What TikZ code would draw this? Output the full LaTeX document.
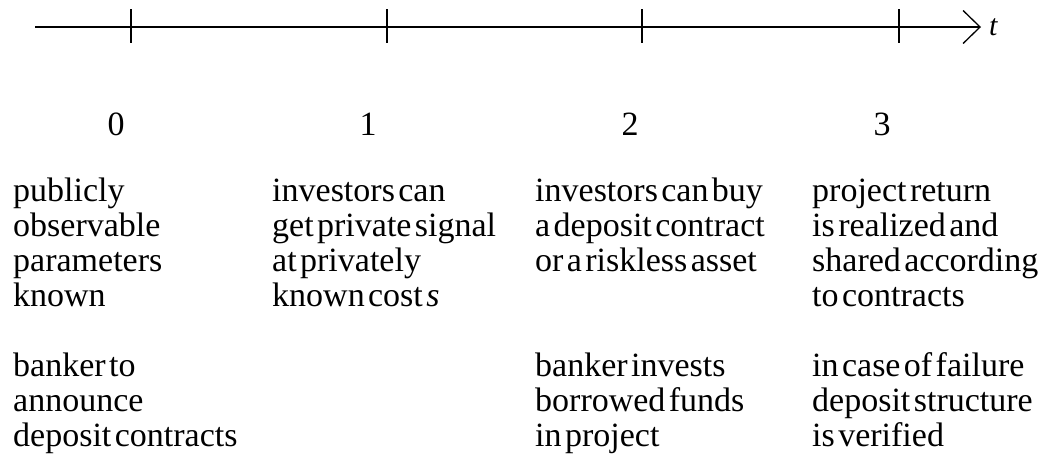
\documentclass[tikz,border=0pt]{standalone}
\usepackage{fontspec}
\setmainfont{Liberation Serif}
\usetikzlibrary{arrows.meta}
\newcommand\eventfont{\fontsize{34}{35}\selectfont}
\newcommand\tightspace{\spaceskip=0.1em plus 0.02em\relax}
\tikzset{
  event/.style={anchor=base west,inner sep=0pt,text width=255pt,align=left,
    font=\eventfont,execute at begin node=\tightspace},
  period/.style={anchor=base,inner sep=0pt,font=\eventfont},
}
\begin{document}
\begin{tikzpicture}[x=1pt,y=1pt]
  \useasboundingbox (0,0) rectangle (1046,-459);
  \coordinate (start) at (35,-27);
  \coordinate (tip) at (981,-27);
  \draw[line width=1.6pt,-{Straight Barb[length=17pt,width=33pt,line width=1.3pt]}] (start) -- (tip);
  \node[anchor=west,inner sep=0pt,font=\fontsize{30}{30}\selectfont\itshape] (tlab) at ([xshift=8pt]tip) {t};
  % ticks and period numbers
  \foreach \tx/\lx/\n in {131/116/0,387/368/1,642/630/2,899/882/3}{
    \draw[line width=1.2pt] (\tx,-9) -- (\tx,-43);
    \node[period] (p\n) at (\lx,-135) {\n};
  }
  % what happens at each date
  \node[event] (ev0a) at (13,-201) {publicly\\observable\\parameters\\known};
  \node[event] (ev1a) at (272,-201) {investors can\\get private signal\\at privately\\known cost \textit{s}};
  \node[event] (ev2a) at (535,-201) {investors can buy\\a deposit contract\\or a riskless asset};
  \node[event] (ev3a) at (812,-201) {project return\\is realized and\\shared according\\to contracts};
  \node[event] (ev0b) at (13,-376) {banker to\\announce\\deposit contracts};
  \node[event] (ev2b) at (535,-376) {banker invests\\borrowed funds\\in project};
  \node[event] (ev3b) at (812,-376) {in case of failure\\deposit structure\\is verified};
\end{tikzpicture}
\end{document}
